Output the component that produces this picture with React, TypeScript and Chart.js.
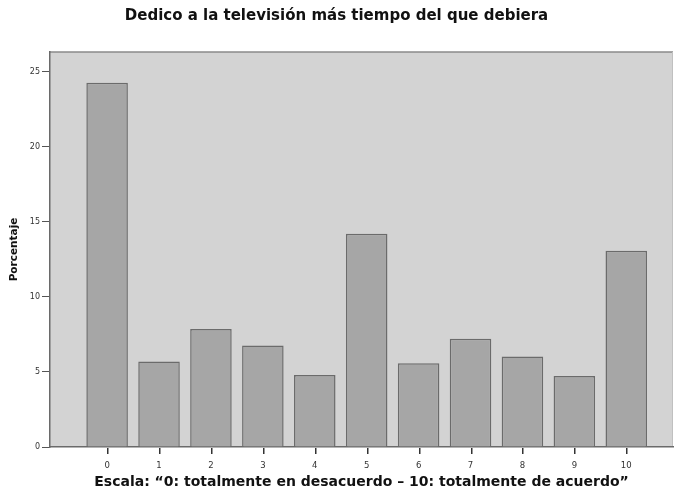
import React, { useEffect, useRef } from "react";
import { Chart, registerables } from "chart.js";

Chart.register(...registerables);

const categories = ["0", "1", "2", "3", "4", "5", "6", "7", "8", "9", "10"];
const percentages = [24.25, 5.69, 7.85, 6.75, 4.8, 14.2, 5.58, 7.2, 6.02, 4.73, 13.07];
const yTicks = [0, 5, 10, 15, 20, 25];
const chartTitle = "Dedico a la televisión más tiempo del que debiera";
const xTitle = "Escala: \u201c0: totalmente en desacuerdo \u2013 10: totalmente de acuerdo\u201d";
const yTitle = "Porcentaje";

const plotBg = {
  id: "plotBg",
  beforeDraw(chart: any) {
    const { ctx, chartArea: a } = chart;
    ctx.save();
    ctx.fillStyle = "#d3d3d3";
    ctx.fillRect(a.left, a.top, a.right - a.left, a.bottom - a.top);
    ctx.strokeStyle = "#8a8a8a";
    ctx.lineWidth = 1.5;
    ctx.beginPath();
    ctx.moveTo(a.left, a.top);
    ctx.lineTo(a.right, a.top);
    ctx.stroke();
    ctx.strokeStyle = "#c0c0c0";
    ctx.lineWidth = 1;
    ctx.beginPath();
    ctx.moveTo(a.right - 0.5, a.top);
    ctx.lineTo(a.right - 0.5, a.bottom);
    ctx.stroke();
    ctx.restore();
  },
  afterDraw(chart: any) {
    const { ctx, chartArea: a } = chart;
    const xs = chart.scales.x;
    ctx.save();
    ctx.fillStyle = "#333";
    categories.forEach((_, i) => {
      const px = Math.round(xs.getPixelForValue(i));
      ctx.fillRect(px, a.bottom + 1, 1.5, 6);
    });
    ctx.restore();
  },
};

export default function App() {
  const ref = useRef<HTMLCanvasElement>(null);
  useEffect(() => {
    document.body.style.margin = "0";
    const font = "'DejaVu Sans', Verdana, sans-serif";
    const chart = new Chart(ref.current!, {
      type: "bar",
      data: {
        datasets: [
          {
            data: percentages.map((v, i) => ({ x: i, y: v })),
            backgroundColor: "#a6a6a6",
            borderColor: "#6b6b6b",
            borderWidth: 1.5,
            barPercentage: 1,
            categoryPercentage: 0.8,
          },
        ],
      },
      options: {
        animation: false,
        responsive: false,
        layout: { padding: { left: 0, right: 6, top: 0, bottom: 0 } },
        plugins: {
          legend: { display: false },
          tooltip: { enabled: false },
          title: {
            display: true,
            text: chartTitle,
            color: "#111",
            font: { family: font, size: 15, weight: "bold" },
            padding: { top: 7, bottom: 27 },
          },
        },
        scales: {
          x: {
            type: "linear",
            min: -1.1,
            max: 10.9,
            offset: false,
            afterBuildTicks: (axis: any) => {
              axis.ticks = categories.map((_, i) => ({ value: i }));
            },
            afterFit: (scale: any) => {
              scale.height = 43;
            },
            ticks: {
              callback: (v: any) => categories[v] ?? "",
              color: "#333",
              font: { family: font, size: 8.5 },
              padding: 6,
              maxRotation: 0,
              autoSkip: false,
            },
            grid: {
              display: false,
            },
            border: { display: true, color: "#6a6a6a", width: 1.5 },
            title: {
              display: true,
              text: xTitle,
              color: "#111",
              font: { family: font, size: 14, weight: "bold" },
              padding: { top: 0, bottom: -1 },
            },
          },
          y: {
            min: 0,
            max: 26.3,
            afterBuildTicks: (axis: any) => {
              axis.ticks = yTicks.map((v) => ({ value: v }));
            },
            afterFit: (scale: any) => {
              scale.width = 50;
            },
            ticks: {
              color: "#333",
              font: { family: font, size: 8 },
              padding: 2,
            },
            grid: {
              drawOnChartArea: false,
              drawTicks: true,
              tickLength: 8,
              color: "#555",
            },
            border: { display: true, color: "#6a6a6a", width: 1.5 },
            title: {
              display: true,
              text: yTitle,
              color: "#111",
              font: { family: font, size: 10.5, weight: "bold" },
              padding: { top: 8, bottom: 0 },
            },
          },
        },
      },
      plugins: [plotBg],
    } as any);
    return () => chart.destroy();
  }, []);
  return (
    <div style={{ position: "absolute", left: 0, top: 0, width: 679, height: 490, background: "#fff" }}>
      <canvas ref={ref} width={679} height={490} />
    </div>
  );
}
